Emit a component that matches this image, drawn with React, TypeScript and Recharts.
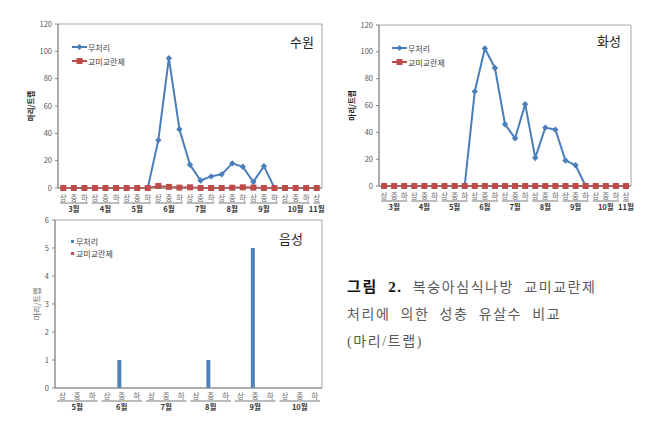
import {
  Bar,
  BarChart,
  CartesianGrid,
  Legend,
  Line,
  LineChart,
  XAxis,
  YAxis,
} from 'recharts'

const periods = ['상', '중', '하']
const topMonths = ['3월', '4월', '5월', '6월', '7월', '8월', '9월', '10월', '11월']
const bottomMonths = ['5월', '6월', '7월', '8월', '9월', '10월']

// 수원
const suwonUntreated = [0, 0, 0, 0, 0, 0, 0, 0, 0, 35, 95, 43, 17, 5.5, 8.5, 10, 18, 15.5, 4.5, 16, 0, 0, 0, 0, 0]
const suwonTreated = [0, 0, 0, 0, 0, 0, 0, 0, 0, 1.5, 0.8, 0.3, 0.5, 0, 0, 0, 0.2, 0.5, 0.3, 0, 0, 0, 0, 0, 0]
// 화성
const hwaseongUntreated = [0, 0, 0, 0, 0, 0, 0, 0, 0, 70.5, 102.5, 88, 46, 35.5, 61, 21, 43.5, 42, 19, 15.5, 0, 0, 0, 0, 0]
const hwaseongTreated = [0, 0, 0, 0, 0, 0, 0, 0, 0, 0, 0, 0, 0, 0, 0, 0, 0, 0, 0, 0, 0, 0, 0, 0, 0]
// 음성
const eumseongUntreated = [0, 0, 0, 0, 1, 0, 0, 0, 0, 0, 1, 0, 0, 5, 0, 0, 0, 0]
const eumseongTreated = [0, 0, 0, 0, 0, 0, 0, 0, 0, 0, 0, 0, 0, 0, 0, 0, 0, 0]

const topTicks = [0, 20, 40, 60, 80, 100, 120]
const bottomTicks = [0, 1, 2, 3, 4, 5, 6]

const BLUE = '#4a7ebb'
const RED = '#be4b48'
const BAR_BLUE = '#4f81bd'
const BAR_RED = '#c0504d'
const AXIS = '#868686'
const FONT = '"Noto Sans CJK KR", "Noto Sans", sans-serif'

type Cat = { key: string; month: string; period: string; last: boolean }

function buildCats(months: string[], lastOnlyFirst: boolean): Cat[] {
  const out: Cat[] = []
  months.forEach((m, mi) => {
    const isLast = mi === months.length - 1
    const ps = isLast && lastOnlyFirst ? periods.slice(0, 1) : periods
    ps.forEach((p) => out.push({ key: m + p, month: m, period: p, last: isLast && lastOnlyFirst }))
  })
  return out
}

const topCats = buildCats(topMonths, true)
const bottomCats = buildCats(bottomMonths, false)

const suwonData = topCats.map((c, i) => ({ ...c, a: suwonUntreated[i], b: suwonTreated[i] }))
const hwaseongData = topCats.map((c, i) => ({ ...c, a: hwaseongUntreated[i], b: hwaseongTreated[i] }))
const eumseongData = bottomCats.map((c, i) => ({ ...c, a: eumseongUntreated[i], b: eumseongTreated[i] }))

function MonthTick(props: any) {
  const { x, y, payload, cats, step, sub, line, mon } = props
  const c: Cat = cats[payload.index]
  if (!c) return null
  const half = step / 2
  let x1 = x - half
  let x2 = x + half
  if (c.period === '상') x1 += 2
  if (c.period === '하' || c.last) x2 -= 2
  return (
    <g>
      <text x={x} y={y + sub} textAnchor="middle" fontSize={7.5} fill="#6b6b6b" fontFamily={FONT}>
        {c.period}
      </text>
      <line x1={x1} x2={x2} y1={y + line} y2={y + line} stroke="#555" strokeWidth={0.8} />
      {(c.period === '중' || c.last) && (
        <text x={x} y={y + mon} textAnchor="middle" fontSize={7.5} fontWeight="bold" fill="#333" fontFamily={FONT}>
          {c.month}
        </text>
      )}
    </g>
  )
}

function YTitle(props: any) {
  const { viewBox, value, dx, bold } = props
  const cx = viewBox.x + dx
  const cy = viewBox.y + viewBox.height / 2
  return (
    <text
      x={cx}
      y={cy}
      transform={`rotate(-90 ${cx} ${cy})`}
      textAnchor="middle"
      dominantBaseline="middle"
      fontSize={bold ? 7.5 : 8}
      fontWeight={bold ? 'bold' : 'normal'}
      fill={bold ? '#222' : '#666'}
      fontFamily={FONT}
    >
      {value}
    </text>
  )
}

function Diamond(props: any) {
  const { cx, cy } = props
  if (cx == null || cy == null) return null
  return <path d={`M${cx} ${cy - 3.2}L${cx + 3.2} ${cy}L${cx} ${cy + 3.2}L${cx - 3.2} ${cy}Z`} fill={BLUE} />
}

function Square(props: any) {
  const { cx, cy } = props
  if (cx == null || cy == null) return null
  return <rect x={cx - 3} y={cy - 3} width={6} height={6} fill={RED} />
}

function LineLegend() {
  const rows = [
    { label: '무처리', color: BLUE, mark: 'd' },
    { label: '교미교란제', color: RED, mark: 's' },
  ]
  return (
    <div style={{ fontFamily: FONT, fontSize: 8, color: '#444' }}>
      {rows.map((r) => (
        <div key={r.label} style={{ display: 'flex', alignItems: 'center', height: 14 }}>
          <svg width={15} height={8} style={{ marginRight: 1 }}>
            <line x1={0} x2={15} y1={4} y2={4} stroke={r.color} strokeWidth={2} />
            {r.mark === 'd' ? (
              <path d="M7.5 1L10.5 4L7.5 7L4.5 4Z" fill={r.color} />
            ) : (
              <rect x={4.5} y={1} width={6} height={6} fill={r.color} />
            )}
          </svg>
          <span>{r.label}</span>
        </div>
      ))}
    </div>
  )
}

function BarLegend() {
  const rows = [
    { label: '무처리', color: BAR_BLUE },
    { label: '교미교란제', color: BAR_RED },
  ]
  return (
    <div style={{ fontFamily: FONT, fontSize: 8, color: '#444' }}>
      {rows.map((r) => (
        <div key={r.label} style={{ display: 'flex', alignItems: 'center', height: 11.5 }}>
          <span style={{ width: 3, height: 3, background: r.color, marginRight: 2, display: 'inline-block' }} />
          <span>{r.label}</span>
        </div>
      ))}
    </div>
  )
}

function boxH({ offset }: any) {
  return [offset.top, offset.top + offset.height]
}
function boxV({ offset }: any) {
  return [offset.left, offset.left + offset.width]
}

type LineProps = {
  data: any[]
  width: number
  height: number
  margin: { top: number; right: number; left: number; bottom: number }
  yWidth: number
  xHeight: number
  legendPos: { left: number; top: number }
}

function TrapLineChart({ data, width, height, margin, yWidth, xHeight, legendPos }: LineProps) {
  const plotW = width - margin.left - margin.right - yWidth
  const step = plotW / data.length
  return (
    <LineChart width={width} height={height} data={data} margin={margin}>
      <CartesianGrid
        stroke="#a6a6a6"
        horizontalCoordinatesGenerator={boxH}
        verticalCoordinatesGenerator={boxV}
      />
      <XAxis
        dataKey="key"
        interval={0}
        height={xHeight}
        padding={{ left: step / 2, right: step / 2 }}
        axisLine={{ stroke: AXIS }}
        tickLine={false}
        tickSize={0}
        tickMargin={0}
        tick={<MonthTick cats={data} step={step} sub={12.5} line={15} mon={23.5} />}
      />
      <YAxis
        width={yWidth}
        domain={[0, 120]}
        ticks={topTicks}
        interval={0}
        axisLine={{ stroke: AXIS }}
        tickLine={{ stroke: AXIS }}
        tickSize={3}
        tickMargin={3}
        tick={{ fontSize: 7.5, fill: '#555', fontFamily: FONT }}
        label={<YTitle value="마리/트랩" dx={yWidth - 26} bold />}
      />
      <Legend
        layout="vertical"
        verticalAlign="middle"
        align="center"
        wrapperStyle={{ left: legendPos.left, top: legendPos.top, width: 'auto' }}
        content={() => <LineLegend />}
      />
      <Line
        dataKey="a"
        stroke={BLUE}
        strokeWidth={2}
        dot={<Diamond />}
        activeDot={false}
        isAnimationActive={false}
      />
      <Line
        dataKey="b"
        stroke={RED}
        strokeWidth={2}
        dot={<Square />}
        activeDot={false}
        isAnimationActive={false}
      />
    </LineChart>
  )
}

const titleStyle = {
  position: 'absolute' as const,
  fontFamily: FONT,
  fontSize: 13,
  color: '#222',
  lineHeight: '16px',
}

export default function App() {
  const barMargin = { top: 8, right: 8, left: 0, bottom: 0 }
  const barW = 330
  const barYW = 55
  const barStep = (barW - barMargin.left - barMargin.right - barYW) / eumseongData.length
  return (
    <div style={{ position: 'absolute', left: 0, top: 0, width: 650, height: 423, background: '#fff', overflow: 'hidden' }}>
      <div style={{ position: 'absolute', left: 0, top: 0 }}>
        <TrapLineChart
          data={suwonData}
          width={330}
          height={215}
          margin={{ top: 24, right: 8, left: 0, bottom: 0 }}
          yWidth={58}
          xHeight={27}
          legendPos={{ left: 72, top: 40 }}
        />
        <div style={{ ...titleStyle, left: 290, top: 34 }}>수원</div>
      </div>
      <div style={{ position: 'absolute', left: 330, top: 0 }}>
        <TrapLineChart
          data={hwaseongData}
          width={320}
          height={215}
          margin={{ top: 25, right: 19, left: 0, bottom: 0 }}
          yWidth={49}
          xHeight={29}
          legendPos={{ left: 62, top: 41 }}
        />
        <div style={{ ...titleStyle, left: 267, top: 33 }}>화성</div>
      </div>
      <div style={{ position: 'absolute', left: 0, top: 212 }}>
        <BarChart width={barW} height={211} data={eumseongData} margin={barMargin} barSize={4} barGap={1}>
          <CartesianGrid
            stroke="#a6a6a6"
            horizontalCoordinatesGenerator={boxH}
            verticalCoordinatesGenerator={boxV}
          />
          <XAxis
            dataKey="key"
            interval={0}
            height={35}
            axisLine={{ stroke: AXIS }}
            tickLine={false}
            tickSize={0}
            tickMargin={0}
            tick={<MonthTick cats={eumseongData} step={barStep} sub={10.5} line={13} mon={22} />}
          />
          <YAxis
            width={barYW}
            domain={[0, 6]}
            ticks={bottomTicks}
            interval={0}
            axisLine={{ stroke: AXIS }}
            tickLine={{ stroke: AXIS }}
            tickSize={3}
            tickMargin={3}
            tick={{ fontSize: 7.5, fill: '#555', fontFamily: FONT }}
            label={<YTitle value="마리/트랩" dx={38} />}
          />
          <Legend
            layout="vertical"
            verticalAlign="middle"
            align="center"
            wrapperStyle={{ left: 71, top: 24, width: 'auto' }}
            content={() => <BarLegend />}
          />
          <Bar dataKey="a" fill={BAR_BLUE} isAnimationActive={false} />
          <Bar dataKey="b" fill={BAR_RED} isAnimationActive={false} />
        </BarChart>
        <div style={{ ...titleStyle, left: 279, top: 19 }}>음성</div>
      </div>
      <div
        style={{
          position: 'absolute',
          left: 347,
          top: 274,
          fontFamily: '"Liberation Serif", "Noto Sans CJK KR", serif',
          fontSize: 14,
          lineHeight: '27px',
          color: '#5a5a5a',
          letterSpacing: 1.6,
          wordSpacing: 5,
          whiteSpace: 'nowrap',
        }}
      >
        <div>
          <span style={{ fontWeight: 'bold', color: '#111', fontSize: 15 }}>그림 2.</span> 복숭아심식나방 교미교란제
        </div>
        <div>처리에 의한 성충 유살수 비교</div>
        <div>(마리/트랩)</div>
      </div>
    </div>
  )
}
